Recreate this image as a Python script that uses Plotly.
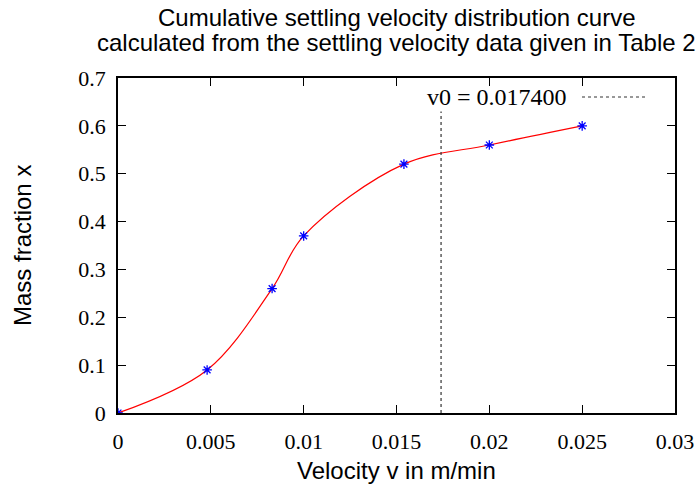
import plotly.graph_objects as go

velocity = [0.0, 0.0048, 0.0083, 0.0100, 0.0154, 0.0200, 0.0250]
mass_fraction = [0.0, 0.09, 0.26, 0.37, 0.52, 0.56, 0.60]
v0 = 0.0174
v0_line_y = [0.0, 0.63]
x_ticks = [0, 0.005, 0.01, 0.015, 0.02, 0.025, 0.03]
x_tick_labels = ["0", "0.005", "0.01", "0.015", "0.02", "0.025", "0.03"]
y_ticks = [0, 0.1, 0.2, 0.3, 0.4, 0.5, 0.6, 0.7]
y_tick_labels = ["0", "0.1", "0.2", "0.3", "0.4", "0.5", "0.6", "0.7"]

serif = "Liberation Serif"
sans = "Liberation Sans"

L, R, T, B = 118, 675, 78, 413
W, H = R - L, B - T


def px(xp):
    return (xp - L) / W


def py(yp):
    return (B - yp) / H


fig = go.Figure()
fig.add_trace(go.Scatter(x=velocity, y=mass_fraction, mode="lines",
                         line=dict(color="red", width=1.2, shape="spline", smoothing=1.0),
                         showlegend=False, hoverinfo="skip"))
fig.add_trace(go.Scatter(x=velocity, y=mass_fraction, mode="markers",
                         marker=dict(symbol="asterisk-open", size=8, color="blue",
                                     line=dict(color="blue", width=1.3)),
                         showlegend=False))
fig.add_trace(go.Scatter(x=[v0, v0], y=v0_line_y, mode="lines",
                         line=dict(color="#333333", width=1.2, dash="dot"),
                         showlegend=False))

# key
fig.add_annotation(xref="paper", yref="paper", x=px(569), y=py(97),
                   text="v0 = 0.017400", showarrow=False, xanchor="right", yanchor="middle",
                   font=dict(family=serif, size=24, color="black"))
fig.add_shape(type="line", xref="paper", yref="paper",
              x0=px(582), x1=px(646), y0=py(97), y1=py(97),
              line=dict(color="#333333", width=1.2, dash="dot"))

# titles
fig.add_annotation(xref="paper", yref="paper", x=0.5, y=py(18),
                   text="Cumulative settling velocity distribution curve",
                   showarrow=False, xanchor="center", yanchor="middle",
                   font=dict(family=sans, size=24, color="black"))
fig.add_annotation(xref="paper", yref="paper", x=0.5, y=py(42),
                   text="calculated from the settling velocity data given in Table 2",
                   showarrow=False, xanchor="center", yanchor="middle",
                   font=dict(family=sans, size=24, color="black"))
fig.add_annotation(xref="paper", yref="paper", x=0.5, y=py(470),
                   text="Velocity v in m/min",
                   showarrow=False, xanchor="center", yanchor="middle",
                   font=dict(family=sans, size=24, color="black"))
fig.add_annotation(xref="paper", yref="paper", x=px(22), y=py(246),
                   text="Mass fraction x", textangle=-90,
                   showarrow=False, xanchor="center", yanchor="middle",
                   font=dict(family=sans, size=24, color="black"))

axis_common = dict(showgrid=False, zeroline=False, showline=True, linecolor="black",
                   linewidth=1.5, mirror="ticks", ticks="inside", ticklen=8,
                   tickcolor="black", tickwidth=1.2, automargin=False,
                   tickfont=dict(family=serif, size=22, color="black"))

fig.update_xaxes(range=[0, 0.03], tickvals=x_ticks, ticktext=x_tick_labels,
                 ticklabelstandoff=8, **axis_common)
fig.update_yaxes(range=[0, 0.7], tickvals=y_ticks, ticktext=y_tick_labels,
                 ticklabelstandoff=6, **axis_common)

fig.update_layout(
    width=699, height=487,
    margin=dict(l=L, r=699 - R, t=T, b=487 - B, autoexpand=False),
    paper_bgcolor="white", plot_bgcolor="white",
)

fig.write_html("out.html", config={"displayModeBar": False},
               post_script="document.body.style.margin='0';document.body.style.overflow='hidden';")
